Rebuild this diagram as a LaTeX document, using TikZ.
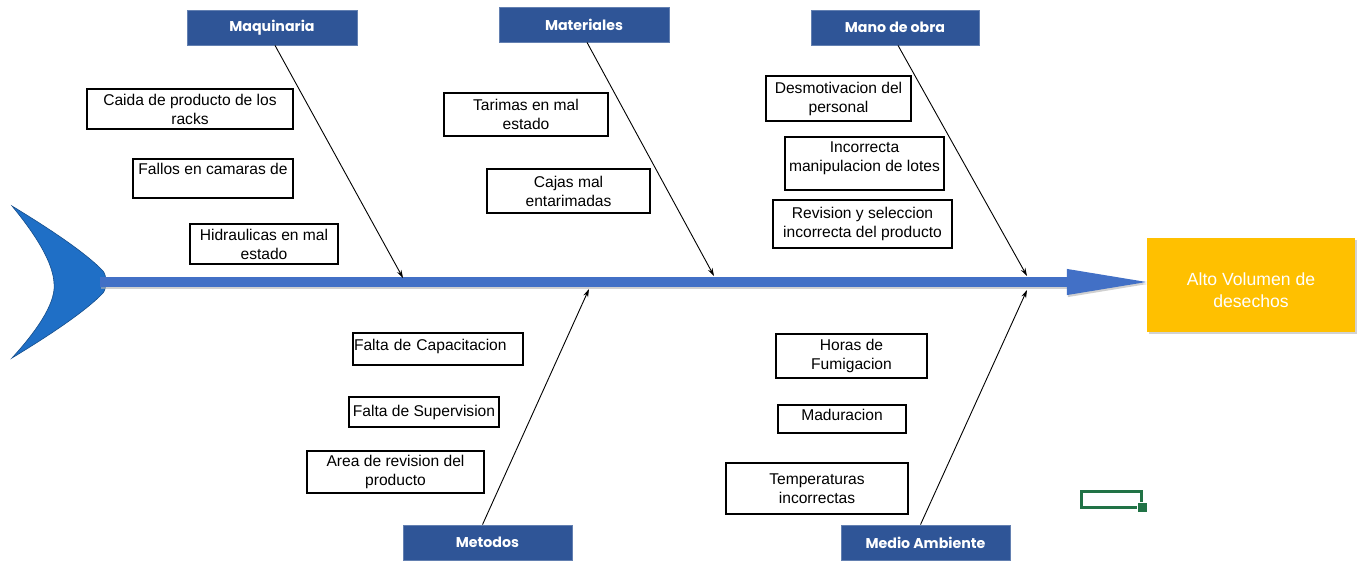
\documentclass[tikz,border=0pt]{standalone}
\usepackage{fontspec}
\setmainfont{Liberation Sans}
\newfontfamily\hdrfont{Poppins}
\usetikzlibrary{arrows.meta,shadows}

\definecolor{hdrblue}{HTML}{2F5597}
\definecolor{spineblue}{HTML}{4270C6}
\definecolor{tailblue}{HTML}{1F6FC6}
\definecolor{effectorange}{HTML}{FFC000}
\definecolor{xlgreen}{HTML}{217346}

\tikzset{
  hdr/.style={draw=hdrblue!75!white, fill=hdrblue, text=white, line width=0.8pt,
    inner sep=0pt, font=\hdrfont\bfseries\fontsize{14.2}{17}\selectfont},
  cause/.style={draw=black, fill=white, line width=1.1pt, align=center,
    inner sep=0pt, font=\fontsize{15.6}{19}\selectfont},
  effect/.style={fill=effectorange, text=white, align=center, inner sep=0pt,
    font=\fontsize{17.6}{22}\selectfont,
    drop shadow={shadow xshift=2pt, shadow yshift=-2pt, opacity=0.35}},
  link/.style={black, line width=0.9pt, -{Stealth[length=8pt,width=5pt]}},
  spine/.style={spineblue, line width=10pt, shorten >=-7pt,
    -{Triangle[length=87pt,width=23pt]}},
}

\begin{document}
\begin{tikzpicture}[x=1pt,y=-1pt]
  % canvas
  \fill[white] (0,0) rectangle (1364,561);
  \useasboundingbox (0,0) rectangle (1364,561);

  % fish tail
  \fill[tailblue, draw=tailblue!70!black, line width=0.6pt]
    (12,206) .. controls (55,232) and (88,255) .. (103,271)
    .. controls (107,276) and (107,288) .. (103,293)
    .. controls (88,309) and (55,332) .. (12,358)
    .. controls (42,325) and (56,300) .. (54,283)
    .. controls (53,265) and (40,240) .. (12,206) -- cycle;
  \coordinate (tailpt) at (100,282);

  % effect
  \node[effect, minimum width=208pt, minimum height=94pt, text height=45pt] (eff) at (1251,285)
    {Alto Volumen de\\desechos};

  % spine with its shadow
  \draw[spine, gray!60, opacity=0.6, transform canvas={shift={(1pt,-2pt)}}]
    (tailpt) -- (tailpt -| eff.west);
  \draw[spine] (tailpt) -- (tailpt -| eff.west);

  % category headers
  \node[hdr, minimum width=170pt, minimum height=35pt] (maq)  at (272,27.5)  {Maquinaria};
  \node[hdr, minimum width=170pt, minimum height=35pt] (mat)  at (584,24.5)  {Materiales};
  \node[hdr, minimum width=168pt, minimum height=35pt] (mano) at (895,27.5)  {Mano de obra};
  \node[hdr, minimum width=169pt, minimum height=35pt] (met)  at (487.5,542.5) {Metodos};
  \node[hdr, minimum width=169pt, minimum height=35pt] (med)  at (925.5,542.5) {Medio Ambiente};

  % junctions on the spine
  \coordinate (j1) at (403,278);
  \coordinate (j2) at (714,276);
  \coordinate (j3) at (1027,276);
  \coordinate (j4) at (589,289);
  \coordinate (j5) at (1027,290);

  \draw[link] ([xshift=3pt]maq.south)  -- (j1);
  \draw[link] ([xshift=3pt]mat.south)  -- (j2);
  \draw[link] ([xshift=3pt]mano.south) -- (j3);
  \draw[link] ([xshift=-5pt]met.north) -- (j4);
  \draw[link] ([xshift=-5pt]med.north) -- (j5);

  % causes: Maquinaria
  \node[cause, minimum width=206pt, minimum height=40pt] (c1) at (190,109)
    {Caida de producto de los\\racks};
  \node[cause, minimum width=160pt, minimum height=39pt, text depth=20pt] (c2) at (213,178.5)
    {Fallos en camaras de};
  \node[cause, minimum width=148pt, minimum height=40pt] (c3) at (264,244)
    {Hidraulicas en mal\\estado};

  % causes: Materiales
  \node[cause, minimum width=164pt, minimum height=43pt] (c4) at (526,114.5)
    {Tarimas en mal\\estado};
  \node[cause, minimum width=163pt, minimum height=44pt] (c5) at (568.5,191)
    {Cajas mal\\entarimadas};

  % causes: Mano de obra
  \node[cause, minimum width=145pt, minimum height=45pt] (c6) at (838.5,98.5)
    {Desmotivacion del\\personal};
  \node[cause, minimum width=159pt, minimum height=53pt, text depth=13pt] (c7) at (864.5,163.5)
    {Incorrecta\\manipulacion de lotes};
  \node[cause, minimum width=179pt, minimum height=48pt] (c8) at (862.5,224)
    {Revision y seleccion\\incorrecta del producto};

  % causes: Metodos
  \node[cause, minimum width=170pt, minimum height=32pt, text depth=8.5pt,
        text width=168pt, align=left] (c9) at (438,349)
    {Falta de Capacitacion};
  \node[cause, minimum width=150pt, minimum height=30pt] (c10) at (424,412)
    {Falta de Supervision};
  \node[cause, minimum width=177pt, minimum height=42pt] (c11) at (395.5,472)
    {Area de revision del\\producto};

  % causes: Medio Ambiente
  \node[cause, minimum width=151pt, minimum height=44pt] (c12) at (851.5,356)
    {Horas de\\Fumigacion};
  \node[cause, minimum width=128pt, minimum height=28pt, text depth=8pt] (c13) at (842,419)
    {Maduracion};
  \node[cause, minimum width=182pt, minimum height=51pt] (c14) at (817,488.5)
    {Temperaturas\\incorrectas};

  % selected cell marker
  \draw[xlgreen, line width=3.5pt] (1081.5,491.5) rectangle (1141.5,507.5);
  \fill[xlgreen, draw=white, line width=0.8pt] (1137,502) rectangle (1147,512);
\end{tikzpicture}
\end{document}
